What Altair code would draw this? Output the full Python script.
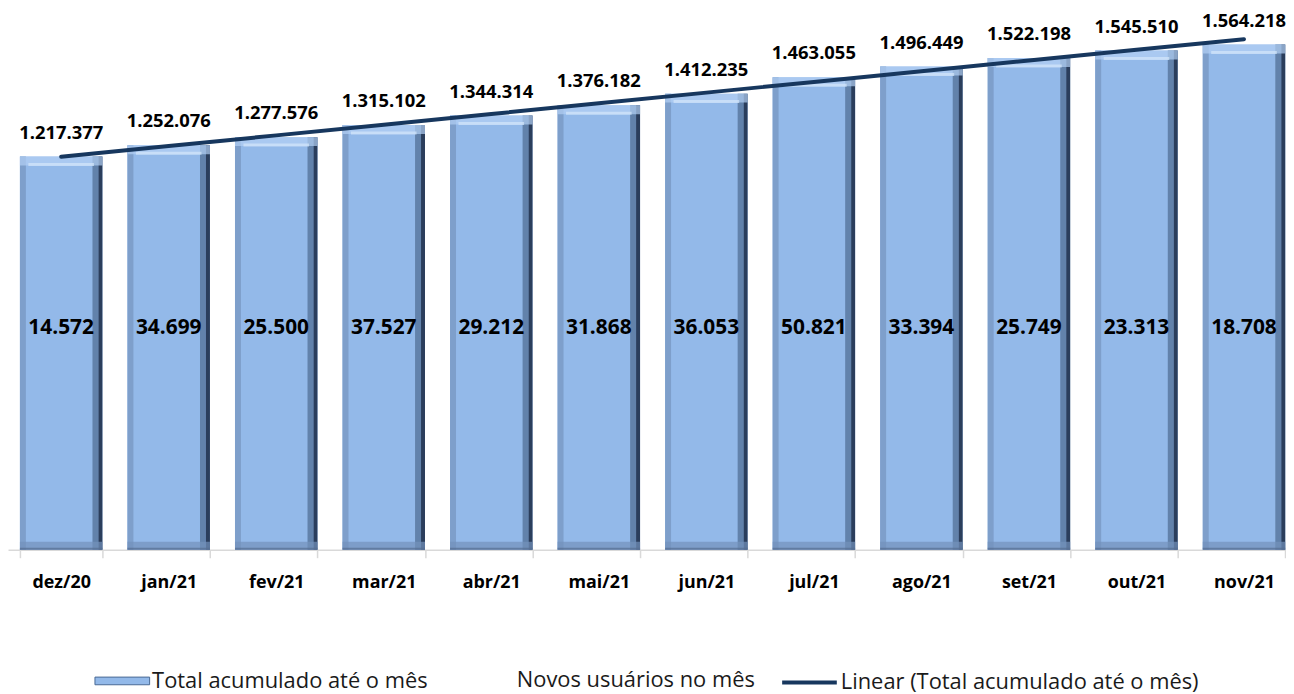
import altair as alt
import numpy as np
import pandas as pd

months = ["dez/20", "jan/21", "fev/21", "mar/21", "abr/21", "mai/21",
          "jun/21", "jul/21", "ago/21", "set/21", "out/21", "nov/21"]
totals = [1217377, 1252076, 1277576, 1315102, 1344314, 1376182,
          1412235, 1463055, 1496449, 1522198, 1545510, 1564218]
novos = [14572, 34699, 25500, 37527, 29212, 31868,
         36053, 50821, 33394, 25749, 23313, 18708]

S_TOTAL = "Total acumulado até o mês"
S_NOVOS = "Novos usuários no mês"
S_LIN = "Linear (Total acumulado até o mês)"

idx = np.arange(len(totals))
slope, intercept = np.polyfit(idx, np.array(totals, dtype=float), 1)

def fmt(v):
    return f"{v:,}".replace(",", ".")

df = pd.DataFrame({
    "month": months,
    "total": totals,
    "novos": novos,
    "trend": intercept + slope * idx,
    "total_lbl": [fmt(v) for v in totals],
    "novos_lbl": [fmt(v) for v in novos],
    "s_total": S_TOTAL,
    "s_novos": S_NOVOS,
    "s_lin": S_LIN,
})

FONT = "Open Sans"
x = alt.X("month:N", sort=months, title=None,
          scale=alt.Scale(paddingInner=0.233, paddingOuter=0.059, align=0.94),
          axis=alt.Axis(labelAngle=0, labelFont=FONT, labelFontSize=18, labelFontWeight="bold",
                        labelColor="#000000", labelPadding=16, tickBand="extent",
                        domainColor="#D9D9D9", domainWidth=1.5, tickColor="#D9D9D9",
                        tickSize=8, tickWidth=1.5, grid=False))
yscale = alt.Scale(domain=[0, 1600000], nice=False)
y = alt.Y("total:Q", scale=yscale, axis=None)
y0 = alt.Y(datum=0, scale=yscale, axis=None)

LEG_Y = 624
common = dict(title=None, orient="none", legendY=LEG_Y, direction="horizontal",
              labelFont=FONT, labelFontSize=22, labelColor="#1a1a1a", labelOffset=2,
              symbolSize=3025, labelLimit=700)

base = alt.Chart(df)

bars = base.mark_bar(color="#93B9E9").encode(
    x=x, y=y,
    fill=alt.Fill("s_total:N",
                  scale=alt.Scale(domain=[S_TOTAL], range=["#93B9E9"]),
                  legend=alt.Legend(legendX=87, symbolType="M-1,-0.14H1V0.14H-1Z",
                                    symbolStrokeColor="#4A6A94", symbolStrokeWidth=1,
                                    symbolFillColor="#85ACDD", **common)),
)

left_edge = base.mark_bar(width=6, xOffset=-38.5, color="#7E9FCB").encode(x=x, y=y)
right_mid = base.mark_bar(width=6, xOffset=34.5, color="#6282AB").encode(x=x, y=y)
right_edge = base.mark_bar(width=4, xOffset=39.5, color="#2B3E5C").encode(x=x, y=y)

top_bevel = base.mark_tick(thickness=9, size=83, yOffset=4.5, orient="horizontal",
                           color="#B3D0F3").encode(x=x, y=y)
top_hl = base.mark_tick(thickness=3, size=66, yOffset=8, orient="horizontal",
                        color="#D4E7FB").encode(x=x, y=y)
bottom_bevel = base.mark_tick(thickness=8, size=83, yOffset=-4, orient="horizontal",
                              color="#7391BA").encode(x=x, y=y0)
bottom_line = base.mark_tick(thickness=2, size=83, yOffset=-1, orient="horizontal",
                             color="#566D92").encode(x=x, y=y0)

trend = base.mark_line(strokeWidth=4, strokeCap="round").encode(
    x=x,
    y=alt.Y("trend:Q", scale=yscale, axis=None),
    stroke=alt.Stroke("s_lin:N",
                      scale=alt.Scale(domain=[S_LIN], range=["#17375E"]),
                      legend=alt.Legend(legendX=777, symbolType="stroke",
                                        symbolStrokeWidth=4, **common)),
)

top_labels = base.mark_text(
    dy=-24, font=FONT, fontSize=18.5, fontWeight="bold", color="#000000"
).encode(x=x, y=y, text="total_lbl:N")

inner_labels = base.mark_text(
    font=FONT, fontSize=21, fontWeight="bold", baseline="middle", color="#000000"
).encode(
    x=x, y=alt.value(297), text="novos_lbl:N",
    opacity=alt.Opacity("s_novos:N",
                        scale=alt.Scale(domain=[S_NOVOS], range=[1, 1]),
                        legend=alt.Legend(legendX=455, symbolType="M0,0",
                                          symbolStrokeWidth=0, **common)),
)

chart = alt.layer(
    bars, left_edge, right_mid, right_edge, top_bevel, top_hl,
    bottom_bevel, bottom_line, trend, top_labels, inner_labels
).properties(
    width=1286, height=520,
    autosize=alt.AutoSizeParams(type="none"),
    padding={"left": 0, "top": 23, "right": 0, "bottom": 143},
).configure_view(stroke=None)

chart.save("out.html", embed_options={"renderer": "svg", "actions": False})
